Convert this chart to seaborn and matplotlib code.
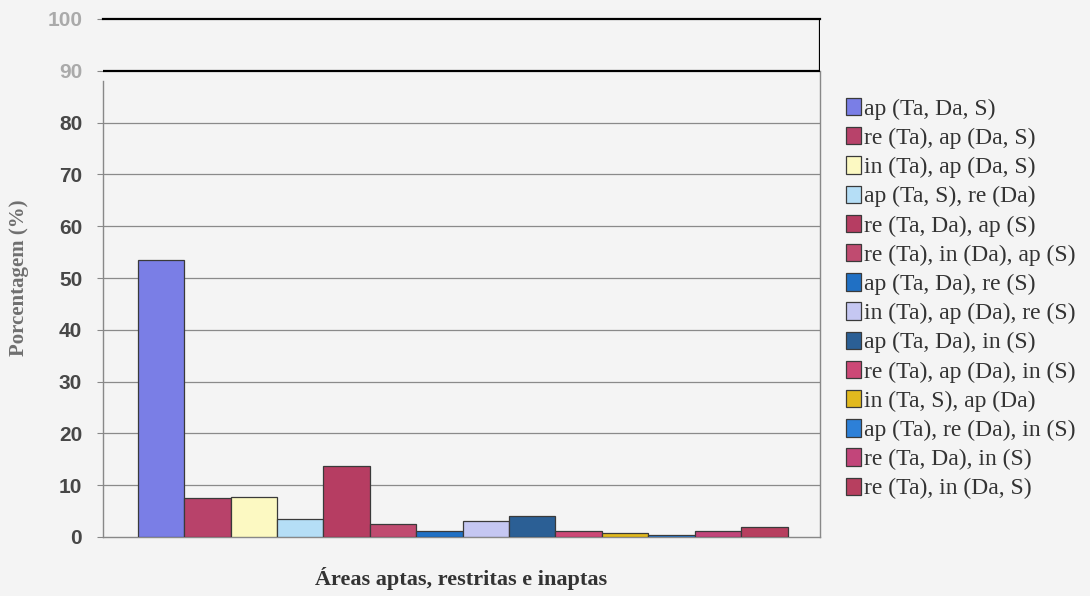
import matplotlib
matplotlib.use("Agg")
import matplotlib.pyplot as plt
import seaborn as sns
import pandas as pd

# Land-suitability classes (apta / restrita / inapta for Ta, Da, S)
classes = [
    "ap (Ta, Da, S)",
    "re (Ta), ap (Da, S)",
    "in (Ta), ap (Da, S)",
    "ap (Ta, S), re (Da)",
    "re (Ta, Da), ap (S)",
    "re (Ta), in (Da), ap (S)",
    "ap (Ta, Da), re (S)",
    "in (Ta), ap (Da), re (S)",
    "ap (Ta, Da), in (S)",
    "re (Ta), ap (Da), in (S)",
    "in (Ta, S), ap (Da)",
    "ap (Ta), re (Da), in (S)",
    "re (Ta, Da), in (S)",
    "re (Ta), in (Da, S)",
]
percent = [53.5, 7.5, 7.7, 3.4, 13.8, 2.5, 1.1, 3.0, 4.0, 1.2, 0.7, 0.3, 1.1, 1.9]
colors = [
    "#7a7ee6", "#b8426a", "#fcf9c2", "#b5def6", "#b63d62", "#c04b70", "#2070c4",
    "#c5c7f2", "#2b5f95", "#cc4876", "#e2b91e", "#2d80d8", "#c2457a", "#b73f5f",
]
yticks = [0, 10, 20, 30, 40, 50, 60, 70, 80, 90, 100]

df = pd.DataFrame({"classe": classes, "pct": percent})

sns.set_style("white")
bg = "#f4f4f4"
fig = plt.figure(figsize=(10.9, 5.96), dpi=100, facecolor=bg)
ax = fig.add_axes([103 / 1090, 1 - 537 / 596, 717 / 1090, 518 / 596])
ax.set_facecolor(bg)

sns.barplot(data=df, x="classe", y="pct", hue="classe", palette=colors,
            saturation=1, width=1.0, edgecolor="#3a3a3a", linewidth=0.9, ax=ax,
            legend=True, zorder=3)

ax.set_ylim(0, 100)
ax.set_xlim(-1.25, 14.2)
ax.set_xticks([])
ax.set_yticks(yticks)

# gridlines
for v in yticks[1:9]:
    ax.axhline(v, color="#8a8a8a", lw=0.9, zorder=1)
ax.axhline(90, color="black", lw=1.6, zorder=4)
ax.vlines(1, 90, 100, transform=ax.get_yaxis_transform(), color="black", lw=1.6, zorder=4)

for side in ["left", "right", "bottom"]:
    ax.spines[side].set_color("#888888")
    ax.spines[side].set_linewidth(1.0)
ax.spines["left"].set_bounds(0, 88)
ax.spines["right"].set_bounds(0, 90)
ax.spines["top"].set_color("black")
ax.spines["top"].set_linewidth(1.6)

ax.tick_params(axis="y", length=4, color="#888888", pad=11, left=True)
for lab, v in zip(ax.get_yticklabels(), yticks):
    lab.set_fontfamily("Liberation Sans")
    lab.set_fontweight("bold")
    lab.set_fontsize(15)
    lab.set_color("#aaaaaa" if v >= 90 else "#474747")

ax.set_ylabel("Porcentagem (%)", family="Liberation Serif", fontweight="bold",
              fontsize=15, color="#6f6f6f")
ax.yaxis.set_label_coords(-0.103, 0.5)
ax.set_xlabel("Áreas aptas, restritas e inaptas", family="Liberation Serif",
              fontweight="bold", fontsize=16, color="#333333", va="center")
ax.xaxis.set_label_coords(0.5, -41 / 518)

sns.move_legend(ax, "upper left", bbox_to_anchor=(846 / 1090, 1 - 98 / 596),
                bbox_transform=fig.transFigure, frameon=False, title=None,
                prop={"family": "Liberation Serif", "size": 17},
                handlelength=0.65, handleheight=0.75, handletextpad=0.1,
                labelspacing=0.31, borderpad=0, borderaxespad=0)
for t in ax.get_legend().get_texts():
    t.set_color("#333333")

fig.savefig("out.png", dpi=100, facecolor=bg)
